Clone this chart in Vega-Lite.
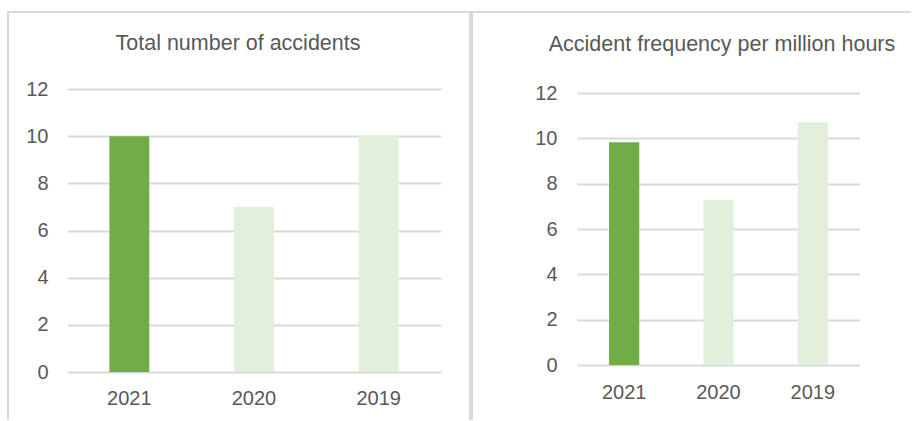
{
  "$schema": "https://vega.github.io/schema/vega-lite/v6.json",
  "padding": {"left": 7, "top": 11, "right": 0, "bottom": 0},
  "background": "white",
  "spacing": 0,
  "config": {
    "font": "Liberation Sans",
    "axis": {"labelFont": "Liberation Sans", "labelColor": "#595959", "labelFontSize": 20, "domain": false, "ticks": false, "title": null, "gridColor": "#d9d9d9", "gridWidth": 2, "labelPadding": 0},
    "title": {"font": "Liberation Sans", "fontSize": 21.5, "fontWeight": "normal", "color": "#595959", "anchor": "middle", "frame": "group", "baseline": "alphabetic"}
  },
  "datasets": {
    "total": [{"year": "2021", "value": 10}, {"year": "2020", "value": 7}, {"year": "2019", "value": 10}],
    "freq": [{"year": "2021", "value": 9.83}, {"year": "2020", "value": 7.28}, {"year": "2019", "value": 10.71}]
  },
  "hconcat": [
    {
      "data": {"name": "total"},
      "width": 462,
      "height": 408,
      "view": {"stroke": "#d9d9d9", "strokeWidth": 2, "strokeDash": [870, 462, 408]},
      "title": {"text": "Total number of accidents", "offset": -42, "dx": -1},
      "mark": {"type": "bar"},
      "encoding": {
        "x": {"field": "year", "type": "nominal", "sort": ["2021", "2020", "2019"], "scale": {"range": [59, 433], "paddingInner": 0.68, "paddingOuter": 0.34}, "axis": {"labelAngle": 0, "offset": -32, "grid": false}},
        "y": {"field": "value", "type": "quantitative", "scale": {"domain": [0, 12], "range": [360, 77], "nice": false}, "axis": {"values": [0, 2, 4, 6, 8, 10, 12], "offset": -40, "grid": true}},
        "color": {"field": "year", "type": "nominal", "scale": {"domain": ["2021", "2020", "2019"], "range": ["#70AD47", "#E2EFDA", "#E2EFDA"]}, "legend": null}
      }
    },
    {
      "data": {"name": "freq"},
      "width": 439,
      "height": 408,
      "view": {"stroke": "#d9d9d9", "strokeWidth": 2, "strokeDash": [439, 847, 408]},
      "title": {"text": "Accident frequency per million hours", "offset": -43, "dx": 30.5},
      "mark": {"type": "bar"},
      "encoding": {
        "x": {"field": "year", "type": "nominal", "sort": ["2021", "2020", "2019"], "scale": {"range": [105, 388], "paddingInner": 0.68, "paddingOuter": 0.34}, "axis": {"labelAngle": 0, "offset": -38, "grid": false}},
        "y": {"field": "value", "type": "quantitative", "scale": {"domain": [0, 12], "range": [353, 81], "nice": false}, "axis": {"values": [0, 2, 4, 6, 8, 10, 12], "offset": -85, "grid": true}},
        "color": {"field": "year", "type": "nominal", "scale": {"domain": ["2021", "2020", "2019"], "range": ["#70AD47", "#E2EFDA", "#E2EFDA"]}, "legend": null}
      }
    }
  ]
}
